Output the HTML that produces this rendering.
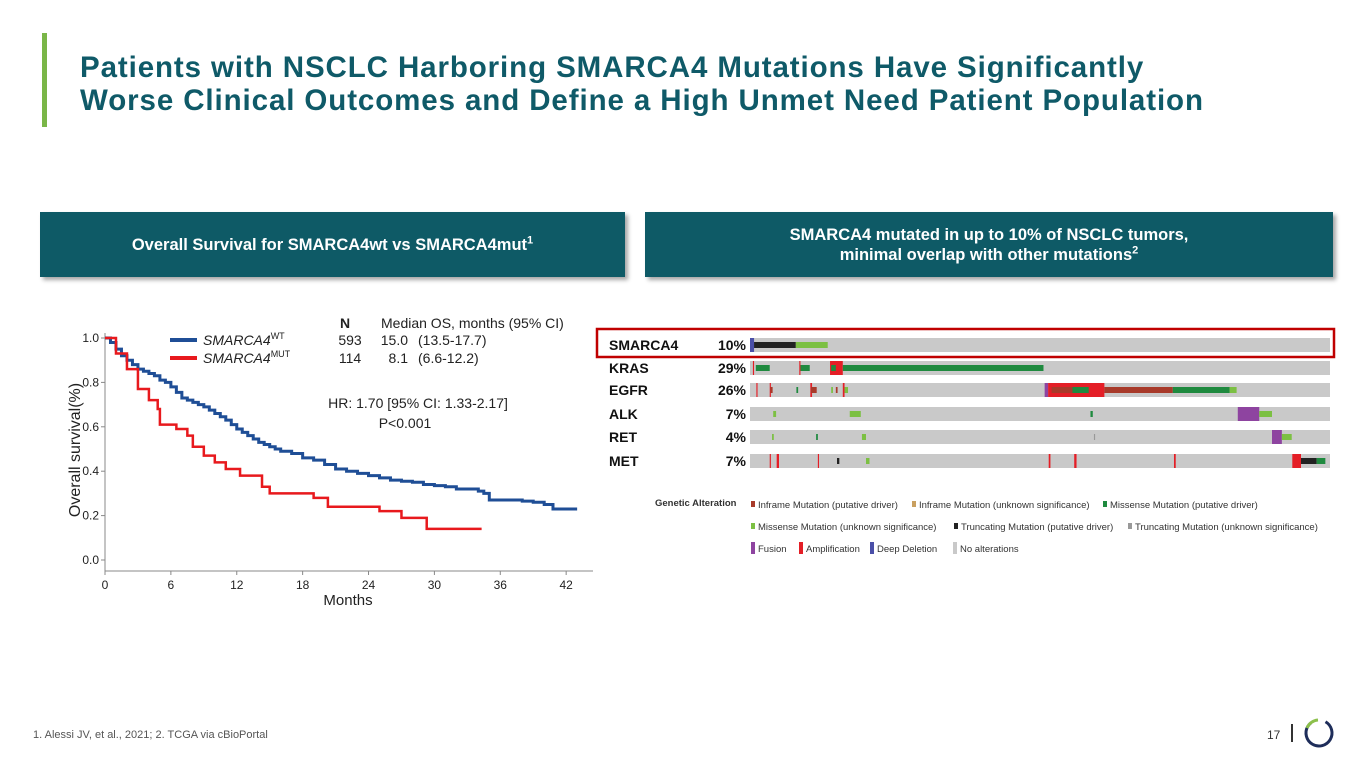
<!DOCTYPE html>
<html><head><meta charset="utf-8"><style>
body{margin:0;width:1365px;height:768px;background:#fff;position:relative;overflow:hidden;font-family:"Liberation Sans",Arial,sans-serif}
.abs{position:absolute}
.title{left:80px;top:51px;color:#0f5a68;font-weight:bold;font-size:29.5px;letter-spacing:0.9px;line-height:33px;white-space:nowrap}
.panel{background:#0e5a66;color:#fff;font-weight:bold;font-size:16.5px;text-align:center;box-shadow:3px 3px 4px rgba(0,0,0,.35);display:flex;align-items:center;justify-content:center;line-height:20px}
.panel sup{font-size:11px;vertical-align:super;line-height:0}
</style></head><body>
<div class="abs" style="left:42px;top:33px;width:5px;height:94px;background:#7ab648"></div>
<div class="abs title">Patients with NSCLC Harboring SMARCA4 Mutations Have Significantly<br>Worse Clinical Outcomes and Define a High Unmet Need Patient Population</div>
<div class="abs panel" style="left:40px;top:212px;width:585px;height:65px"><span>Overall Survival for SMARCA4wt vs SMARCA4mut<sup>1</sup></span></div>
<div class="abs panel" style="left:645px;top:212px;width:688px;height:65px"><span>SMARCA4 mutated in up to 10% of NSCLC tumors,<br>minimal overlap with other mutations<sup>2</sup></span></div>

<svg class="abs" style="left:0;top:0" width="1365" height="768">
<g id="km"></g>
<g id="onco"></g>
</svg>

<div class="abs" style="left:33px;top:729px;font-size:11px;color:#555">1. Alessi JV, et al., 2021; 2. TCGA via cBioPortal</div>
<div class="abs" style="left:1267px;top:728px;font-size:12px;color:#333">17</div>
<div class="abs" style="left:1291px;top:724px;width:2px;height:18px;background:#333"></div>
<svg class="abs" style="left:1302px;top:716px" width="34" height="34">
<circle cx="17" cy="17" r="13" fill="none" stroke="#1e2d5a" stroke-width="3" stroke-dasharray="66 16" transform="rotate(-60 17 17)"/>
<path d="M5 12 A13 13 0 0 1 16 4" fill="none" stroke="#8cc04b" stroke-width="3"/>
</svg>

<script>
const NS='http://www.w3.org/2000/svg';
function mk(p,t,a,txt){const e=document.createElementNS(NS,t);for(const k in a)e.setAttribute(k,a[k]);if(txt!==undefined)e.textContent=txt;p.appendChild(e);return e;}
const xTicks=[0,6,12,18,24,30,36,42];
const yTicks=[0.0,0.2,0.4,0.6,0.8,1.0];
const wtMonths=[0,0.5,1,1.5,2,2.5,3,3.5,4,4.5,5,5.5,6,6.5,7,7.5,8,8.5,9,9.5,10,10.5,11,11.5,12,12.5,13,13.5,14,14.5,15,15.5,16,17,18,19,20,21,22,23,24,25,26,27,28,29,30,31,32,33,34,34.5,35,36,38,39,40,40.8,43];
const wtSurv=[1.0,0.98,0.95,0.92,0.9,0.88,0.86,0.85,0.84,0.83,0.81,0.8,0.78,0.755,0.73,0.72,0.71,0.7,0.69,0.675,0.66,0.645,0.63,0.61,0.59,0.575,0.56,0.545,0.53,0.52,0.51,0.5,0.49,0.48,0.46,0.45,0.43,0.41,0.40,0.39,0.38,0.37,0.36,0.355,0.35,0.34,0.335,0.33,0.32,0.32,0.31,0.30,0.27,0.27,0.265,0.26,0.25,0.23,0.23];
const mutMonths=[0,1,2,3,4,4.8,5,6.5,7.5,8,9,10,11,12.3,14.3,15,19,20.3,25,27,29.3,34.3];
const mutSurv=[1,0.93,0.86,0.77,0.72,0.68,0.61,0.59,0.56,0.51,0.47,0.44,0.41,0.38,0.33,0.30,0.28,0.24,0.22,0.19,0.14,0.14];
const X=m=>105+m*10.98, Y=s=>560-s*222;
const km=document.getElementById('km');
let e;
e=mk(km,'line',{x1:105,y1:333,x2:105,y2:571,stroke:'#888','stroke-width':1});

e=mk(km,'line',{x1:105,y1:571,x2:593,y2:571,stroke:'#888','stroke-width':1});

xTicks.forEach(t=>{mk(km,'line',{x1:X(t),y1:571,x2:X(t),y2:575,stroke:'#888'});
 e=mk(km,'text',{x:X(t),y:589,'font-size':12,'text-anchor':'middle',fill:'#222'},t);
 });
yTicks.forEach(t=>{mk(km,'line',{x1:101,y1:Y(t),x2:105,y2:Y(t),stroke:'#888'});
 e=mk(km,'text',{x:99,y:Y(t)+4,'font-size':12,'text-anchor':'end',fill:'#222'},t.toFixed(1));
 });
e=mk(km,'text',{x:348,y:605,'font-size':15,'text-anchor':'middle',fill:'#222'},'Months');

e=mk(km,'text',{x:80,y:450,'font-size':16,'text-anchor':'middle',fill:'#222',transform:'rotate(-90 80 450)'},'Overall survival(%)');

function step(ms,ss){let d='M'+X(ms[0])+' '+Y(ss[0]);for(let i=1;i<ms.length;i++){d+=' H'+X(ms[i])+' V'+Y(ss[i]);}return d;}
e=mk(km,'path',{d:step(wtMonths,wtSurv),fill:'none',stroke:'#1f4e96','stroke-width':3});

e=mk(km,'path',{d:step(mutMonths,mutSurv),fill:'none',stroke:'#e8191d','stroke-width':2.5});

const leg=[['#1f4e96','WT','593','15.0','(13.5-17.7)',345],['#e8191d','MUT','114','8.1','(6.6-12.2)',363]];
mk(km,'text',{x:345,y:328,'font-size':14,'font-weight':'bold','text-anchor':'middle',fill:'#222'},'N');
mk(km,'text',{x:381,y:328,'font-size':14,fill:'#222'},'Median OS, months (95% CI)');
leg.forEach(l=>{
 e=mk(km,'line',{x1:170,y1:l[5]-5,x2:197,y2:l[5]-5,stroke:l[0],'stroke-width':4});
 
 const t=mk(km,'text',{x:203,y:l[5],'font-size':14,'font-style':'italic',fill:'#222'},'SMARCA4');
 mk(t,'tspan',{dy:-6,'font-size':9,'font-style':'normal'},l[1]);
 mk(km,'text',{x:350,y:l[5],'font-size':14,'text-anchor':'middle',fill:'#222'},l[2]);
 mk(km,'text',{x:408,y:l[5],'font-size':14,'text-anchor':'end',fill:'#222'},l[3]);
 mk(km,'text',{x:418,y:l[5],'font-size':14,fill:'#222'},l[4]);
});
mk(km,'text',{x:418,y:408,'font-size':14,'text-anchor':'middle',fill:'#222'},'HR: 1.70 [95% CI: 1.33-2.17]');
mk(km,'text',{x:405,y:428,'font-size':14,'text-anchor':'middle',fill:'#222'},'P<0.001');

const genes=['SMARCA4','KRAS','EGFR','ALK','RET','MET'];
const pcts=['10%','29%','26%','7%','4%','7%'];
const C={blue:'#4a4fa8',black:'#222',lg:'#7cc043',dg:'#1f8a3f',red:'#e41e26',br:'#a83a2a',pu:'#8e44a0',gr:'#999'};
const alts=[
 [[0,0.007,'blue'],[0.007,0.072,'black'],[0.079,0.055,'lg']],
 [[0.005,0.002,'red'],[0.01,0.024,'dg'],[0.087,0.016,'dg'],[0.085,0.002,'red'],[0.138,0.022,'red'],[0.140,0.008,'dg'],[0.16,0.346,'dg']],
 [[0.011,0.002,'red'],[0.034,0.002,'red'],[0.035,0.004,'br'],[0.08,0.003,'dg'],[0.104,0.003,'red'],[0.105,0.01,'br'],[0.14,0.003,'lg'],[0.148,0.003,'br'],[0.16,0.003,'red'],[0.163,0.006,'lg'],[0.508,0.006,'pu'],[0.514,0.097,'red'],[0.52,0.045,'br'],[0.556,0.028,'dg'],[0.611,0.118,'br'],[0.729,0.098,'dg'],[0.827,0.012,'lg']],
 [[0.04,0.005,'lg'],[0.172,0.019,'lg'],[0.587,0.004,'dg'],[0.841,0.037,'pu'],[0.878,0.022,'lg']],
 [[0.038,0.003,'lg'],[0.114,0.003,'dg'],[0.193,0.007,'lg'],[0.593,0.002,'gr'],[0.9,0.017,'pu'],[0.917,0.017,'lg']],
 [[0.046,0.004,'red'],[0.034,0.002,'red'],[0.117,0.002,'red'],[0.15,0.004,'black'],[0.2,0.006,'lg'],[0.515,0.003,'red'],[0.559,0.004,'red'],[0.731,0.003,'red'],[0.935,0.015,'red'],[0.95,0.027,'black'],[0.977,0.015,'dg']]
];
const on=document.getElementById('onco');
const TX=750,TW=580,rowY=[338,361,383,407,430,454],RH=14;
genes.forEach((g,i)=>{
 e=mk(on,'text',{x:609,y:rowY[i]+12,'font-size':14,'font-weight':'bold',fill:'#111'},g);
 
 e=mk(on,'text',{x:746,y:rowY[i]+12,'font-size':14,'font-weight':'bold','text-anchor':'end',fill:'#111'},pcts[i]);
 
 e=mk(on,'rect',{x:TX,y:rowY[i],width:TW,height:RH,fill:'#c9c9c9'});
 
 alts[i].forEach(a=>{
  const full=['red','pu','blue'].includes(a[2]);
  e=mk(on,'rect',{x:TX+a[0]*TW,y:full?rowY[i]:rowY[i]+4,width:Math.max(1,a[1]*TW),height:full?RH:RH-8,fill:C[a[2]]});
  });
});
e=mk(on,'rect',{x:597,y:329,width:737,height:28,fill:'none',stroke:'#c00000','stroke-width':2.5});

mk(on,'text',{x:655,y:506,'font-size':9.5,'font-weight':'bold',fill:'#333'},'Genetic Alteration');
const legItems=[['#a83a2a','Inframe Mutation (putative driver)',751,508],['#c9a060','Inframe Mutation (unknown significance)',912,508],['#1f8a3f','Missense Mutation (putative driver)',1103,508],
['#7cc043','Missense Mutation (unknown significance)',751,530],['#222','Truncating Mutation (putative driver)',954,530],['#999','Truncating Mutation (unknown significance)',1128,530],
['#8e44a0','Fusion',751,552],['#e41e26','Amplification',799,552],['#4a4fa8','Deep Deletion',870,552],['#c9c9c9','No alterations',953,552]];
legItems.forEach(l=>{
 const full=['#8e44a0','#e41e26','#4a4fa8','#c9c9c9'].includes(l[0]);
 e=mk(on,'rect',{x:l[2],y:full?l[3]-10:l[3]-7,width:4,height:full?12:6,fill:l[0]});
 
 e=mk(on,'text',{x:l[2]+7,y:l[3],'font-size':9.5,fill:'#333'},l[1]);
 
});
</script>
</body></html>
